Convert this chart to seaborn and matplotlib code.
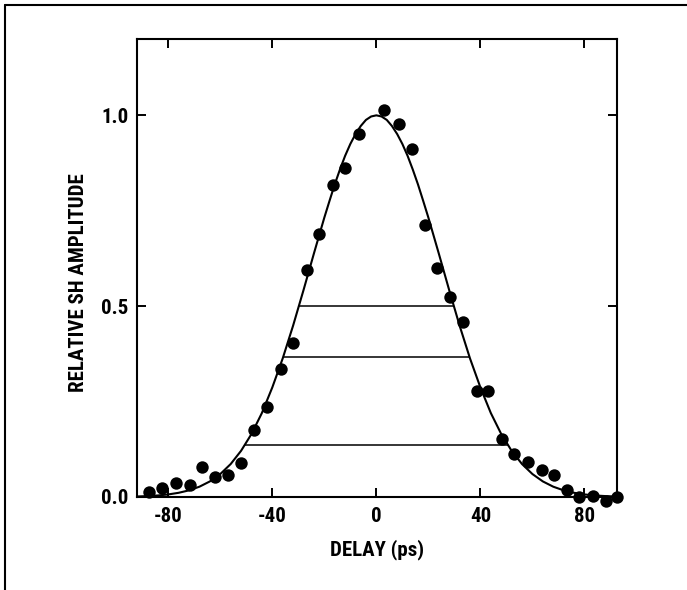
import matplotlib
matplotlib.use("Agg")
import matplotlib.pyplot as plt
from matplotlib import font_manager
from matplotlib.lines import Line2D
import seaborn as sns
import pandas as pd

# Measured second-harmonic autocorrelation (delay in ps, relative amplitude)
delay_ps = [-87.4, -82.2, -77.1, -71.8, -66.9, -62.0, -56.9, -52.2, -47.1,
            -41.9, -36.8, -32.0, -26.6, -22.0, -16.8, -11.9, -6.6, 3.1,
            8.7, 13.7, 18.7, 23.4, 28.5, 33.3, 38.6, 43.1, 48.2, 53.1,
            58.1, 63.5, 68.4, 73.4, 78.0, 83.4, 88.1, 92.6]
amplitude = [0.012, 0.023, 0.036, 0.031, 0.078, 0.052, 0.058, 0.088, 0.176,
             0.235, 0.335, 0.404, 0.594, 0.690, 0.818, 0.863, 0.952, 1.013,
             0.976, 0.912, 0.712, 0.599, 0.524, 0.458, 0.278, 0.277, 0.152,
             0.113, 0.091, 0.071, 0.057, 0.018, 0.001, 0.003, -0.010, 0.001]

# Fitted profile (symmetric about zero delay), denser sampling near the peak
fit_delay = [-92, -88, -84, -80, -76, -72, -68, -64, -60, -56, -52, -48, -44,
             -40, -36, -32, -28, -24, -22, -20, -18, -16, -14, -12, -10, -8,
             -6, -4, -2, 0, 2, 4, 6, 8, 10, 12, 14, 16, 18, 20, 22, 24, 28,
             32, 36, 40, 44, 48, 52, 56, 60, 64, 68, 72, 76, 80, 84, 88, 92]
fit_amplitude = [0.0013, 0.0024, 0.0040, 0.0067, 0.0110, 0.0174, 0.0270,
                 0.0408, 0.0601, 0.0863, 0.121, 0.165, 0.220, 0.287, 0.363,
                 0.449, 0.542, 0.638, 0.685, 0.732, 0.776, 0.819, 0.858,
                 0.894, 0.925, 0.951, 0.972, 0.988, 0.997, 1.000, 0.997,
                 0.988, 0.972, 0.951, 0.925, 0.894, 0.858, 0.819, 0.776,
                 0.732, 0.685, 0.638, 0.542, 0.449, 0.363, 0.287, 0.220,
                 0.165, 0.121, 0.0863, 0.0601, 0.0408, 0.0270, 0.0174,
                 0.0110, 0.0067, 0.0040, 0.0024, 0.0013]

# Width markers: half maximum, 1/e and 1/e^2 levels with their half-widths
level_values = [0.5, 0.368, 0.135]
level_half_widths = [29.8, 35.9, 50.6]

x_ticks = [-80, -40, 0, 40, 80]
y_ticks = [0.0, 0.5, 1.0]
y_tick_labels = ["0.0", "0.5", "1.0"]

sns.set_style("ticks")

# Prefer a narrow bold sans face for the lettering
installed = {f.name for f in font_manager.fontManager.ttflist}
face = "DejaVu Sans"
for cand in ["Liberation Sans Narrow", "Roboto Condensed", "Open Sans Condensed",
             "DejaVu Sans Condensed", "Roboto"]:
    if cand in installed:
        face = cand
        break
FONT = [face, "DejaVu Sans"]
plt.rcParams["font.family"] = FONT
plt.rcParams["font.weight"] = "bold"
plt.rcParams["text.color"] = "black"
plt.rcParams["axes.labelcolor"] = "black"

fig = plt.figure(figsize=(6.87, 5.90), dpi=100)
ax = fig.add_axes([137 / 687, 1 - 497 / 590, 480 / 687, 458 / 590])

points = pd.DataFrame({"delay": delay_ps, "amp": amplitude})
fit = pd.DataFrame({"delay": fit_delay, "amp": fit_amplitude})

sns.lineplot(data=fit, x="delay", y="amp", ax=ax, color="black",
             linewidth=1.5, estimator=None, sort=False)
ax.hlines(level_values,
          [-w for w in level_half_widths], level_half_widths,
          colors="black", linewidth=1.1)
sns.scatterplot(data=points, x="delay", y="amp", ax=ax, color="black",
                s=80, edgecolor="black", linewidth=0, clip_on=False, zorder=5)

ax.set_xlim(-92, 92.5)
ax.set_ylim(0, 1.2)
ax.set_xticks(x_ticks)
ax.set_xticklabels([f"{v:d}" for v in x_ticks])
ax.set_yticks(y_ticks)
ax.set_yticklabels(y_tick_labels)

for side in ["left", "right", "top", "bottom"]:
    ax.spines[side].set_visible(True)
    ax.spines[side].set_linewidth(1.5)
    ax.spines[side].set_color("black")

ax.tick_params(axis="both", which="major", direction="in", length=6.5,
               width=1.4, top=True, right=True, labelsize=15, colors="black")
ax.tick_params(axis="x", pad=7)
ax.tick_params(axis="y", pad=6)
for lab in ax.get_xticklabels() + ax.get_yticklabels():
    lab.set_fontweight("bold")

ax.set_xlabel("DELAY (ps)", fontsize=15, fontweight="bold", color="black")
ax.set_ylabel("RELATIVE SH AMPLITUDE", fontsize=15, fontweight="bold",
              color="black")
ax.xaxis.set_label_coords(0.5, -0.092)
ax.yaxis.set_label_coords(-0.102, 0.469)

# Outer frame around the figure (left and top edges)
fig.add_artist(Line2D([5 / 687, 5 / 687], [0, 1 - 5 / 590],
                      transform=fig.transFigure, color="black", linewidth=1.5))
fig.add_artist(Line2D([5 / 687, 1], [1 - 5 / 590, 1 - 5 / 590],
                      transform=fig.transFigure, color="black", linewidth=1.5))

fig.savefig("out.png", dpi=100, facecolor="white")
